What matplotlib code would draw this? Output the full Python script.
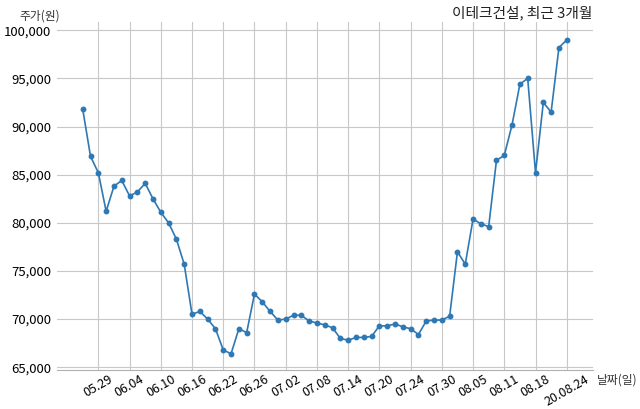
import matplotlib
matplotlib.use('Agg')
import matplotlib.pyplot as plt
import numpy as np

plt.rcParams['font.family'] = ['Noto Sans CJK KR', 'DejaVu Sans']

# trading days (2020)
dates = ['05.27', '05.28', '05.29',
         '06.01', '06.02', '06.03', '06.04', '06.05', '06.08', '06.09', '06.10',
         '06.11', '06.12', '06.15', '06.16', '06.17', '06.18', '06.19', '06.22',
         '06.23', '06.24', '06.25', '06.26', '06.29', '06.30',
         '07.01', '07.02', '07.03', '07.06', '07.07', '07.08', '07.09', '07.10',
         '07.13', '07.14', '07.15', '07.16', '07.17', '07.20', '07.21', '07.22',
         '07.23', '07.24', '07.27', '07.28', '07.29', '07.30', '07.31',
         '08.03', '08.04', '08.05', '08.06', '08.07', '08.10', '08.11', '08.12',
         '08.13', '08.14', '08.18', '08.19', '08.20', '08.21', '08.24']

prices = [91800, 86900, 85200, 81200, 83800, 84400, 82800, 83200, 84100, 82500,
          81100, 80000, 78300, 75700, 70500, 70800, 70000, 69000, 66800, 66400,
          69000, 68600, 72600, 71800, 70800, 69900, 70000, 70400, 70400, 69800,
          69600, 69400, 69100, 68000, 67800, 68100, 68100, 68200, 69300, 69300,
          69500, 69200, 69000, 68400, 69800, 69900, 69900, 70300, 77000, 75700,
          80400, 79900, 79600, 86500, 87000, 90200, 94400, 95000, 85200, 92500,
          91500, 98200, 99000]

tick_idx = list(range(2, len(dates), 4))
tick_labels = [dates[i] for i in tick_idx]
tick_labels[-1] = '20.08.24'

yticks = [65000, 70000, 75000, 80000, 85000, 90000, 95000, 100000]

fig = plt.figure(figsize=(6.4, 4.09), dpi=100)
ax = fig.add_axes([0.089, 0.095, 0.838, 0.851])

x = np.arange(len(prices))
ax.plot(x, prices, color='#2e78b4', linewidth=1.2, marker='o', markersize=3.2)

ax.set_xlim(-3.3, 65.4)
ax.set_ylim(64700, 100850)
ax.set_xticks(tick_idx)
ax.set_xticklabels(tick_labels, rotation=30, fontsize=9)
ax.set_yticks(yticks)
ax.set_yticklabels(['{:,}'.format(v) for v in yticks], fontsize=9.5)
ax.tick_params(length=0)
ax.tick_params(axis='y', pad=4)
ax.tick_params(axis='x', pad=2)

ax.grid(True, color='#c8c8c8', linewidth=0.8)
ax.set_axisbelow(True)
for s in ['top', 'right', 'left']:
    ax.spines[s].set_visible(False)
ax.spines['bottom'].set_color('#b0b0b0')
ax.spines['bottom'].set_linewidth(0.8)

fig.text(0.925, 0.968, '이테크건설, 최근 3개월', ha='right', va='center', fontsize=10.6, color='#222222')
fig.text(0.062, 0.962, '주가(원)', ha='center', va='center', fontsize=8.5, color='#333333')
fig.text(0.933, 0.071, '날짜(일)', ha='left', va='center', fontsize=8.5, color='#333333')

fig.savefig('out.png', dpi=100)
